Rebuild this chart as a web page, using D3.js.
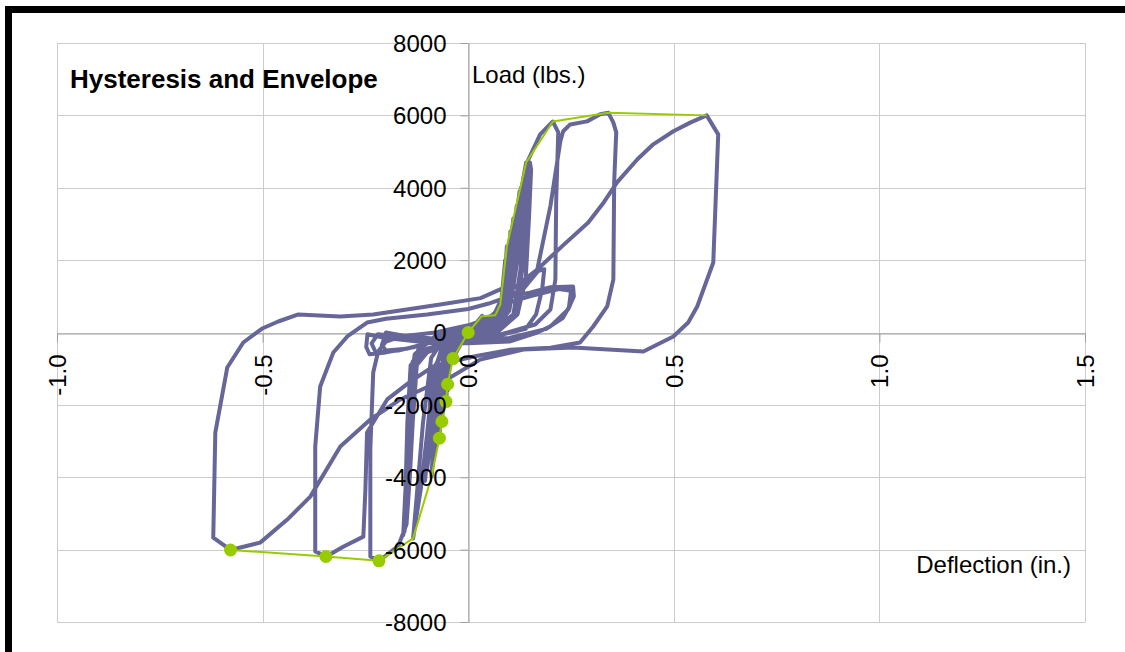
<!DOCTYPE html>
<html>
<head>
<meta charset="utf-8">
<script src="https://cdn.jsdelivr.net/npm/d3@7"></script>
<style>
  html, body { margin: 0; padding: 0; background: #fff; }
  svg { display: block; }
  text { font-family: "Liberation Sans", Arial, sans-serif; fill: #000; }
</style>
</head>
<body>
<svg id="chart" width="1125" height="652"></svg>
<script>
// ---- Axis ticks ----
const xTicks = [-1.0, -0.5, 0.0, 0.5, 1.0, 1.5];
const xTickLabels = ["-1.0", "-0.5", "0.0", "0.5", "1.0", "1.5"];
const yTicks = [-8000, -6000, -4000, -2000, 0, 2000, 4000, 6000, 8000];
const yTickLabels = ["-8000", "-6000", "-4000", "-2000", "0", "2000", "4000", "6000", "8000"];

// ---- Hysteresis record: [deflection (in.), load (lbs.)] ----
const cyclesElastic = [
  [0,0],[0.015,200],[0.034,460],[0.022,250],[0.005,40],[-0.015,-250],[-0.037,-720],[-0.025,-400],[-0.005,-60],
  [0.02,220],[0.045,400],[0.065,490],[0.05,300],[0.02,60],[-0.02,-150],[-0.04,-400],[-0.05,-1430],[-0.045,-900],[-0.03,-250],[0,0],
  [0.03,200],[0.06,450],[0.078,770],[0.07,500],[0.04,100],[0,-50],[-0.03,-200],[-0.048,-600],[-0.054,-1910],[-0.05,-1300],[-0.038,-250],[0,-20],
  [0.035,150],[0.065,400],[0.075,700],[0.065,300],[0.03,0],[-0.03,-250],[-0.045,-700],[-0.05,-1600],[-0.045,-900],[-0.03,-200]
];
const cyclesMid = [
  [0.01,80],[0.05,200],[0.08,600],[0.09,1500],[0.094,2380],[0.09,1600],[0.075,400],[0.04,-50],[-0.02,-200],[-0.05,-450],[-0.06,-1200],[-0.064,-2460],[-0.058,-1400],[-0.045,-300],[0,40],
  [0.05,250],[0.08,800],[0.09,2000],[0.085,1000],[0.07,200],[0.02,-100],[-0.04,-300],[-0.058,-1000],[-0.062,-2100],[-0.055,-1000],[-0.04,-200],[0.02,150],
  [0.06,350],[0.085,900],[0.1,2200],[0.11,3150],[0.105,2400],[0.09,800],[0.06,150],[0,-150],[-0.05,-400],[-0.065,-1200],[-0.07,-2920],[-0.063,-1700],[-0.05,-400],[0,100],
  [0.06,300],[0.09,1200],[0.103,2800],[0.098,1800],[0.085,500],[0.04,-100],[-0.03,-300],[-0.06,-800],[-0.068,-2500],[-0.06,-1300],[-0.045,-250],[0.03,200],
  [0.07,400],[0.1,1500],[0.115,3000],[0.125,3900],[0.12,3000],[0.105,1200],[0.08,300],[0.02,-150],[-0.05,-450],[-0.075,-1500],[-0.085,-3000],[-0.089,-3980],[-0.08,-2800],[-0.065,-900],[-0.04,-200],[0.03,250],
  [0.08,500],[0.105,1800],[0.118,3500],[0.113,2600],[0.1,1000],[0.06,100],[-0.03,-300],[-0.07,-1000],[-0.082,-3400],[-0.075,-2200],[-0.06,-600],[0.02,150]
];
const cycle014 = [
  [0.075,450],[0.1,1300],[0.115,2800],[0.13,4000],[0.141,4700],[0.135,3800],[0.12,2000],[0.1,600],[0.06,50],[0,-200],
  [-0.06,-450],[-0.085,-1100],[-0.1,-2800],[-0.115,-4300],[-0.134,-5690],[-0.125,-4500],[-0.11,-2500],[-0.09,-700],[-0.06,-200],[0.03,300]
];
const cycle014Repeats = [
  [0.085,600],[0.11,2000],[0.125,3700],[0.128,4000],[0.123,3200],[0.11,1400],[0.09,400],[0.02,-150],[-0.06,-400],[-0.09,-1300],[-0.1,-3500],[-0.105,-4100],[-0.098,-3200],[-0.085,-1200],[-0.06,-250],[0.04,300],
  [0.09,700],[0.115,2500],[0.125,3800],[0.12,3000],[0.105,1000],[0.05,0],[-0.05,-350],[-0.085,-1000],[-0.095,-3300],[-0.1,-3800],[-0.092,-2800],[-0.075,-800],[0,50]
];
const cycle021 = [
  [0.06,300],[0.09,415],[0.114,2295],[0.141,4650],[0.175,5475],[0.206,5830],[0.219,5530],[0.214,3677],[0.212,1465],[0.2,636],[0.163,221],[0.078,-55],[0.03,-150],
  [-0.04,-300],[-0.1,-550],[-0.125,-900],[-0.135,-2500],[-0.142,-4000],[-0.15,-5300],[-0.17,-5900],[-0.217,-6310],[-0.238,-6190],[-0.238,-3235],[-0.231,-1106],[-0.219,-525],[-0.2,-250],[-0.16,-100],[-0.08,0],[0,200],[0.05,400]
];
const cycle021Repeats = [
  [0.09,800],[0.115,2200],[0.135,3800],[0.15,4700],[0.153,4500],[0.148,3200],[0.14,1500],[0.12,500],[0.07,0],[-0.02,-200],[-0.1,-450],[-0.14,-900],[-0.148,-2500],[-0.152,-4200],[-0.158,-5600],[-0.155,-5400],[-0.15,-3800],[-0.145,-1800],[-0.13,-600],[-0.08,-100],[0,150],
  [0.08,600],[0.11,2000],[0.13,3600],[0.145,4500],[0.142,3700],[0.135,2000],[0.115,500],[0.05,-50],[-0.06,-300],[-0.13,-700],[-0.14,-2200],[-0.148,-4300],[-0.155,-5500],[-0.15,-4800],[-0.145,-3000],[-0.138,-1300],[-0.12,-400],[-0.05,0],[0.03,250],
  [0.085,700],[0.115,2500],[0.132,4000],[0.14,4400],[0.136,3500],[0.128,1800],[0.11,500],[0.04,-100],[-0.08,-350],[-0.135,-800],[-0.142,-2800],[-0.15,-4800],[-0.152,-5300],[-0.146,-4200],[-0.14,-2200],[-0.13,-800],[-0.1,-200],[0,100]
];
const cycle035 = [
  [0.06,400],[0.1,900],[0.168,1742],[0.2,3500],[0.224,5280],[0.231,5560],[0.248,5750],[0.289,5834],[0.321,6030],[0.341,6070],[0.353,5800],[0.36,5530],[0.355,4150],[0.353,1465],[0.338,720],[0.304,166],[0.272,-276],
  [0.2,-420],[0.1,-480],[0.02,-650],[-0.04,-800],[-0.085,-940],[-0.14,-1350],[-0.197,-1850],[-0.246,-2765],[-0.25,-4340],[-0.255,-5640],[-0.304,-5920],[-0.345,-6190],
  [-0.372,-6050],[-0.372,-3150],[-0.36,-1493],[-0.328,-553],[-0.294,-110],[-0.246,276],[-0.2,380],[-0.1,500],[0,650],[0.05,800]
];
const cycle035Repeats = [
  [0.1,1000],[0.15,1100],[0.2,1250],[0.255,1270],[0.257,1000],[0.243,640],[0.2,170],[0.168,0],[0.1,-250],[0,-300],[-0.1,-280],[-0.2,-150],[-0.245,-50],[-0.248,-400],[-0.24,-600],[-0.2,-550],[-0.13,-400],[-0.05,-100],[0.05,200],
  [0.08,900],[0.13,1150],[0.17,1700],[0.185,1750],[0.18,1200],[0.165,500],[0.14,100],[0.05,-150],[-0.05,-200],[-0.15,-100],[-0.2,0],[-0.21,-350],[-0.2,-500],[-0.15,-450],[-0.05,-150],[0.04,250],
  [0.09,800],[0.15,1000],[0.22,1200],[0.25,1150],[0.245,700],[0.23,400],[0.19,100],[0.1,-150],[0,-200],[-0.12,-150],[-0.22,-50],[-0.235,-300],[-0.225,-550],[-0.17,-500],[-0.08,-250],[0,0],[0.04,300],[0.08,600]
];
const cycle058 = [
  [0.095,1100],[0.168,1740],[0.23,2400],[0.292,3040],[0.33,3600],[0.362,4150],[0.411,4780],[0.45,5200],[0.499,5560],[0.54,5800],[0.58,6000],
  [0.608,5475],[0.596,1935],[0.557,720],[0.535,276],[0.499,-110],[0.426,-525],[0.255,-415],[0.134,-470],[0.029,-750],
  [-0.044,-1245],[-0.102,-1520],[-0.165,-1850],[-0.238,-2405],[-0.311,-3150],[-0.384,-4535],[-0.44,-5170],[-0.506,-5807],[-0.578,-6010],
  [-0.62,-5670],[-0.615,-2765],[-0.586,-968],[-0.547,-276],[-0.501,110],[-0.462,304],[-0.413,498],[-0.311,442],[-0.231,498],[-0.068,774],[0.03,950],[0.078,1190]
];

// ---- Backbone envelope ----
const envelopePositive = [[0,0],[0.033,450],[0.066,480],[0.078,770],[0.094,2380],[0.141,4700],[0.206,5830],[0.341,6070],[0.58,6000]];
const envelopeNegative = [[0,0],[-0.037,-720],[-0.05,-1430],[-0.054,-1910],[-0.064,-2460],[-0.07,-2920],[-0.089,-3980],[-0.134,-5690],[-0.217,-6310],[-0.346,-6190],[-0.578,-6010]];
const envelopePeaks = [[0,0],[-0.037,-720],[-0.05,-1430],[-0.054,-1910],[-0.064,-2460],[-0.07,-2920],[-0.217,-6310],[-0.346,-6190],[-0.578,-6010]];

const hysteresis = [].concat(cyclesElastic, cyclesMid, cycle014, cycle014Repeats, cycle021, cycle021Repeats, cycle035, cycle035Repeats, cycle058);

// ---- Layout ----
const svg = d3.select("#chart");
const plot = { left: 57, right: 1085, top: 43, bottom: 622 };
const x = d3.scaleLinear().domain([-1.0, 1.5]).range([plot.left, plot.right]);
const y = d3.scaleLinear().domain([-8000, 8000]).range([plot.bottom, plot.top]);

const gridColor = "#cccccc";
const axisColor = "#a0a0a0";

// outer frame (only its top and left edges fall inside the page)
svg.append("rect")
  .attr("x", 8.5).attr("y", 9.5).attr("width", 1300).attr("height", 1300)
  .attr("fill", "none").attr("stroke", "#000").attr("stroke-width", 7);

// gridlines
const grid = svg.append("g");
grid.selectAll("line.vx").data(xTicks).join("line")
  .attr("x1", d => Math.round(x(d)) + 0.5).attr("x2", d => Math.round(x(d)) + 0.5)
  .attr("y1", y(8000)).attr("y2", y(-8000))
  .attr("stroke", gridColor).attr("stroke-width", 1);
grid.selectAll("line.hy").data(yTicks).join("line")
  .attr("x1", x(-1.0)).attr("x2", x(1.5))
  .attr("y1", d => Math.round(y(d)) + 0.5).attr("y2", d => Math.round(y(d)) + 0.5)
  .attr("stroke", gridColor).attr("stroke-width", 1);

// axis lines and tick marks (below the data)
const x0 = Math.round(x(0)) + 0.5, y0 = Math.round(y(0)) + 0.5;
const xAxisLines = svg.append("g").attr("transform", `translate(0,${y0})`)
  .call(d3.axisBottom(x).tickValues(xTicks).tickSize(9).tickSizeOuter(0).tickFormat(""));
const yAxisLines = svg.append("g").attr("transform", `translate(${x0},0)`)
  .call(d3.axisLeft(y).tickValues(yTicks).tickSize(8).tickSizeOuter(0).tickFormat(""));
[xAxisLines, yAxisLines].forEach(g => {
  g.select(".domain").attr("stroke", axisColor);
  g.selectAll(".tick line").attr("stroke", axisColor);
  g.selectAll(".tick text").remove();
});

// hysteresis loops
const line = d3.line().x(d => x(d[0])).y(d => y(d[1]));
svg.append("path").datum(hysteresis)
  .attr("d", line)
  .attr("fill", "none").attr("stroke", "#666699").attr("stroke-width", 4)
  .attr("stroke-linejoin", "round").attr("stroke-linecap", "round");

// envelope
[envelopePositive, envelopeNegative].forEach(env => {
  svg.append("path").datum(env)
    .attr("d", line)
    .attr("fill", "none").attr("stroke", "#99cc00").attr("stroke-width", 2)
    .attr("stroke-linejoin", "round");
});
svg.append("g").selectAll("circle").data(envelopePeaks).join("circle")
  .attr("cx", d => x(d[0])).attr("cy", d => y(d[1])).attr("r", 6.5)
  .attr("fill", "#99cc00");

// tick labels (drawn over the data)
const xAxisText = svg.append("g").attr("transform", `translate(0,${y0})`)
  .call(d3.axisBottom(x).tickValues(xTicks).tickSize(0).tickFormat((d, i) => xTickLabels[i]));
xAxisText.select(".domain").remove();
xAxisText.selectAll(".tick text")
  .attr("transform", "rotate(-90)")
  .attr("text-anchor", "end")
  .attr("x", -21).attr("y", 0).attr("dy", "0.35em")
  .attr("font-size", 24).attr("font-family", "Liberation Sans, Arial, sans-serif").attr("fill", "#000");

const yAxisText = svg.append("g").attr("transform", `translate(${x0},0)`)
  .call(d3.axisLeft(y).tickValues(yTicks).tickSize(0).tickFormat((d, i) => yTickLabels[i]));
yAxisText.select(".domain").remove();
yAxisText.selectAll(".tick text")
  .attr("x", -22).attr("dy", "0.35em")
  .attr("font-size", 24).attr("font-family", "Liberation Sans, Arial, sans-serif").attr("fill", "#000");

// titles
svg.append("text").attr("x", 70).attr("y", 88)
  .attr("font-size", 26).attr("font-weight", "bold")
  .text("Hysteresis and Envelope");
svg.append("text").attr("x", 472).attr("y", 83)
  .attr("font-size", 24)
  .text("Load (lbs.)");
svg.append("text").attr("x", 1071).attr("y", 573)
  .attr("font-size", 24).attr("text-anchor", "end")
  .text("Deflection (in.)");
</script>
</body>
</html>
